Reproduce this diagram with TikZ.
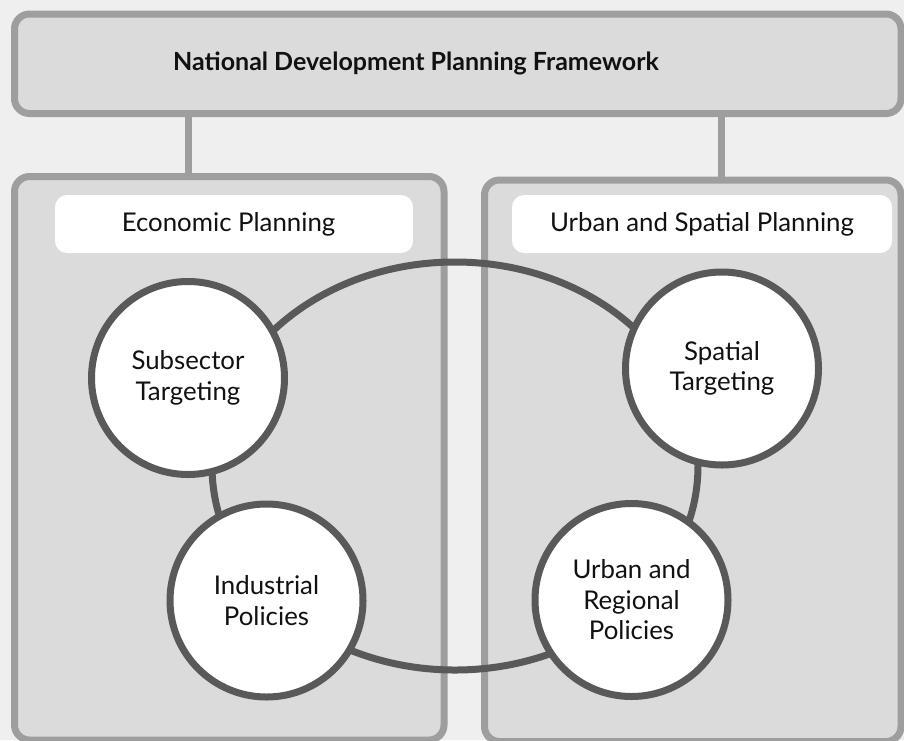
\documentclass[tikz,border=0pt]{standalone}
\usepackage{fontspec}
\setmainfont{Lato}
\definecolor{bgc}{HTML}{EFEFEF}
\definecolor{boxfill}{HTML}{DBDBDB}
\definecolor{boxline}{HTML}{9E9E9E}
\definecolor{ringline}{HTML}{595959}
\definecolor{txt}{HTML}{111111}
\tikzset{
  framebox/.style={draw=boxline, fill=boxfill, line width=7pt, rounded corners=15pt, inner sep=0pt, outer sep=0pt},
  labelbox/.style={fill=white, rounded corners=12pt, inner sep=0pt, text=txt, font=\fontsize{25.8}{30}\selectfont},
  topic/.style={circle, draw=ringline, fill=white, line width=7pt, minimum size=193pt, inner sep=0pt, align=center, text=txt, font=\fontsize{25.8}{30.5}\selectfont},
  link/.style={draw=boxline, line width=7pt},
  ring/.style={draw=ringline, line width=7pt}
}
\begin{document}
\begin{tikzpicture}[x=1pt,y=-1pt]
\useasboundingbox (0,0) rectangle (904,740);
\clip (0,0) rectangle (904,740);
\fill[bgc] (0,0) rectangle (904,740);
% top box
\node[framebox, minimum width=886.5pt, minimum height=99.5pt] (top) at (457.75,63.75) {};
\node[text=txt, font=\bfseries\fontsize{25}{30}\selectfont, inner sep=0pt] (title) at (416,63.5) {National Development Planning Framework};
% panels
\node[framebox, minimum width=429.5pt, minimum height=563.5pt] (econ) at (229.25,458.25) {};
\node[framebox, minimum width=416.5pt, minimum height=561.5pt] (urban) at (692.75,460.75) {};
% connectors
\coordinate (la) at (188.5,113.5);
\coordinate (ra) at (721,113.5);
\draw[link] (la) -- (la |- econ.north);
\draw[link] (ra) -- (ra |- urban.north);
% labels
\node[labelbox, minimum width=358pt, minimum height=58pt] (econlab) at (234,224) {};
\node[text=txt, font=\fontsize{25.8}{30}\selectfont, inner sep=0pt] at (228.5,224) {Economic Planning};
\node[labelbox, minimum width=380pt, minimum height=58pt] (urbanlab) at (702,224) {Urban and Spatial Planning};
% ring
\draw[ring] (455,466) ellipse [x radius=243pt, y radius=204pt];
% circles
\node[topic] (sub) at (188,378) {Subsector\\Targeting};
\node[topic] (ind) at (266.5,600.5) {Industrial\\Policies};
\node[topic] (spa) at (722,368.5) {Spatial\\Targeting};
\node[topic] (reg) at (631.5,600) {Urban and\\Regional\\Policies};
\end{tikzpicture}
\end{document}
